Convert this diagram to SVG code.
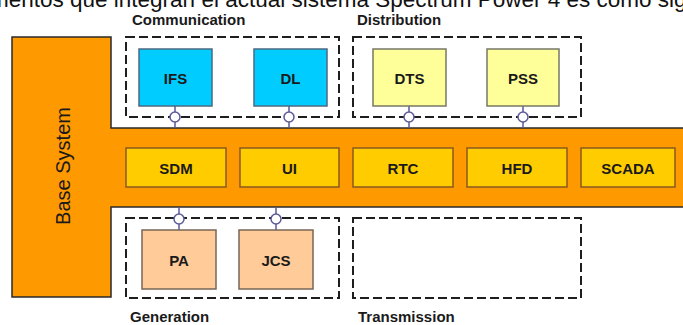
<svg xmlns="http://www.w3.org/2000/svg" width="683" height="325" viewBox="0 0 683 325">
  <style>
    .lbl { font-family: "Liberation Sans", Arial, sans-serif; font-weight: bold; font-size: 15px; fill: #1a1a1a; }
    .box-text { font-family: "Liberation Sans", Arial, sans-serif; font-weight: bold; font-size: 15px; fill: #1a1a1a; text-anchor: middle; dominant-baseline: central; }
    .group { fill: none; stroke: #1e1e1e; stroke-width: 2; stroke-dasharray: 9 4; }
    .comm { fill: #00CCFF; stroke: #4a6a80; stroke-width: 1.5; }
    .dist { fill: #FFFF99; stroke: #777766; stroke-width: 1.5; }
    .gen { fill: #FFCC99; stroke: #776655; stroke-width: 1.5; }
    .core { fill: #FFCC00; stroke: #8a5a20; stroke-width: 1.5; }
    .link { stroke: #5a5a9a; stroke-width: 1.5; fill: none; }
    .port { fill: #ffffff; stroke: #5a5a9a; stroke-width: 1.5; }
  </style>

  <!-- caption line partially visible at the top -->
  <text x="-10" y="7" font-family="'Liberation Sans', Arial, sans-serif" font-size="22.5" fill="#111">mentos que integran el actual sistema Spectrum Power 4 es como sigue</text>

  <!-- base system backbone -->
  <g id="base-system">
    <path d="M12 37 H111 V128 H690 V207 H111 V297 H12 Z" fill="#FF9900" stroke="#2a2a2a" stroke-width="1.5"/>
    <text transform="translate(63 166) rotate(-90)" font-family="'Liberation Sans', Arial, sans-serif" font-size="20" fill="#1a1a1a" text-anchor="middle" dominant-baseline="central">Base System</text>
  </g>

  <!-- group frames and labels -->
  <g id="communication">
    <rect class="group" x="126" y="37" width="213" height="80"/>
    <text class="lbl" x="132" y="25">Communication</text>
  </g>
  <g id="distribution">
    <rect class="group" x="353" y="37" width="228" height="80"/>
    <text class="lbl" x="357" y="25">Distribution</text>
  </g>
  <g id="generation">
    <rect class="group" x="126" y="218" width="213" height="80"/>
    <text class="lbl" x="130" y="322">Generation</text>
  </g>
  <g id="transmission">
    <rect class="group" x="353" y="218" width="228" height="80"/>
    <text class="lbl" x="358" y="322">Transmission</text>
  </g>

  <!-- connectors -->
  <g id="connectors">
    <path class="link" d="M175 106 V128 M289 106 V128 M409 106 V128 M523 106 V128 M179 207 V230 M276 207 V230"/>
    <circle class="port" cx="175" cy="117" r="5"/>
    <circle class="port" cx="289" cy="117" r="5"/>
    <circle class="port" cx="409" cy="117" r="5"/>
    <circle class="port" cx="523" cy="117" r="5"/>
    <circle class="port" cx="179" cy="219" r="5"/>
    <circle class="port" cx="276" cy="219" r="5"/>
  </g>

  <!-- application modules -->
  <g id="ifs"><rect class="comm" x="139" y="49" width="73" height="57"/><text class="box-text" x="175.5" y="78">IFS</text></g>
  <g id="dl"><rect class="comm" x="254" y="49" width="73" height="57"/><text class="box-text" x="290.5" y="78">DL</text></g>
  <g id="dts"><rect class="dist" x="373" y="49" width="73" height="57"/><text class="box-text" x="409.5" y="78">DTS</text></g>
  <g id="pss"><rect class="dist" x="487" y="49" width="72" height="57"/><text class="box-text" x="523" y="78">PSS</text></g>
  <g id="pa"><rect class="gen" x="142" y="230" width="74" height="59"/><text class="box-text" x="179" y="260">PA</text></g>
  <g id="jcs"><rect class="gen" x="239" y="230" width="74" height="59"/><text class="box-text" x="276" y="260">JCS</text></g>

  <!-- base system services -->
  <g id="sdm"><rect class="core" x="126" y="148" width="100" height="39"/><text class="box-text" x="176" y="168">SDM</text></g>
  <g id="ui"><rect class="core" x="240" y="148" width="99" height="39"/><text class="box-text" x="289.5" y="168">UI</text></g>
  <g id="rtc"><rect class="core" x="353" y="148" width="100" height="39"/><text class="box-text" x="403" y="168">RTC</text></g>
  <g id="hfd"><rect class="core" x="467" y="148" width="100" height="39"/><text class="box-text" x="517" y="168">HFD</text></g>
  <g id="scada"><rect class="core" x="581" y="148" width="94" height="39"/><text class="box-text" x="628" y="168">SCADA</text></g>
</svg>
